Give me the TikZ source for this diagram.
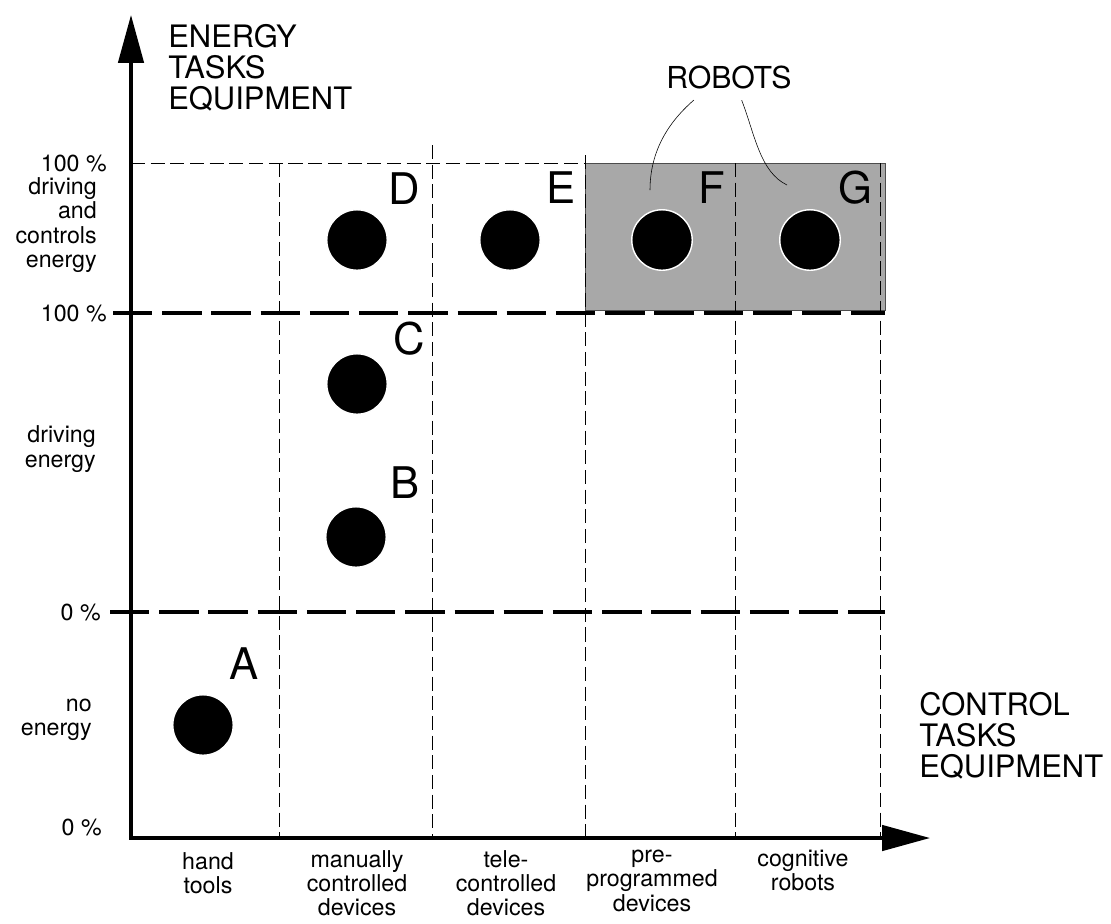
\documentclass[tikz,border=0pt]{standalone}
\usepackage{fontspec}
\setmainfont{TeX Gyre Heros}
\usetikzlibrary{arrows.meta}

\begin{document}
\begin{tikzpicture}[x=0.025cm, y=-0.025cm,
    dot/.style={circle, fill=black, draw=white, line width=1pt, minimum size=43pt, inner sep=0pt},
    letter/.style={font=\fontsize{31}{31}\selectfont, inner sep=0pt},
    small/.style={font=\fontsize{16.5}{17.2}\selectfont, inner sep=0pt},
    big/.style={font=\fontsize{22}{22}\selectfont, inner sep=0pt, align=left},
    axis/.style={line width=2.4pt, {Triangle[length=34pt, width=18pt]}-{Triangle[length=34pt, width=18pt]}},
    thickdash/.style={line width=2.6pt, dash pattern=on 28pt off 7pt},
    thindash/.style={line width=0.6pt, dash pattern=on 10pt off 4pt}]
        \useasboundingbox (0,0) rectangle (1111,923);

        % robots zone
        \filldraw[fill=black!34, draw=black!70, thin] (585,163) rectangle (885,310);

        % grid
        \draw[thindash] (131,163) -- (585,163);
        \foreach \x/\t in {279/163, 432/145, 585/155, 735/163, 880/163}
            \draw[thindash] (\x,\t) -- (\x,838);
        \draw[thickdash] (113,313) -- (885,313);
        \draw[thickdash] (110,612) -- (885,612);

        % axes
        \coordinate (O) at (131,838);
        \coordinate (ytip) at (131,15);
        \coordinate (xtip) at (930,838);
        \draw[axis] (ytip) -- (O) -- (xtip);

        % equipment
        \node[dot] (A) at (203,725) {};
        \node[dot] (B) at (356,537) {};
        \node[dot] (C) at (357,384) {};
        \node[dot] (D) at (357,240) {};
        \node[dot] (E) at (510,240) {};
        \node[dot] (F) at (662,240) {};
        \node[dot] (G) at (810,240) {};
        \node[letter] (lA) at (244,664) {A};
        \node[letter] (lB) at (405,483) {B};
        \node[letter] (lC) at (409,339) {C};
        \node[letter] (lD) at (404,189) {D};
        \node[letter] (lE) at (561,188) {E};
        \node[letter] (lF) at (712,188) {F};
        \node[letter] (lG) at (855,188) {G};

        \node[font=\fontsize{21.5}{21.5}\selectfont, inner sep=0pt] (robots) at (729,77) {ROBOTS};
        \coordinate (fend) at (650,190);
        \coordinate (gend) at (787,185);
        \draw[thin] ([xshift=-25pt, yshift=-8pt]robots.south) .. controls (665,125) and (650,155) .. (fend);
        \draw[thin] ([xshift=9pt, yshift=-8pt]robots.south) .. controls (755,135) and (760,172) .. (gend);

        % axis titles
        \node[big, anchor=north west] (ytitle) at (168,24) {ENERGY\\TASKS\\EQUIPMENT};
        \node[big, anchor=north west] (xtitle) at (919,692) {CONTROL\\TASKS\\EQUIPMENT};

        % energy levels
        \node[small, anchor=east] (top100) at (107,163) {100 \%};
        \node[small, anchor=east, align=right] (ctrl) at (97,225) {driving\\and\\controls\\energy};
        \node[small, anchor=east] (mid100) at (107,313) {100 \%};
        \node[small, anchor=east, align=right] (drive) at (96,449) {driving\\energy};
        \node[small, anchor=east] (mid0) at (101,612) {0 \%};
        \node[small, anchor=east, align=right] (none) at (92,720) {no\\energy};
        \node[small, anchor=east] (bot0) at (102,827) {0 \%};

        % control levels
        \node[small, anchor=north, align=center] (hand) at (208,852) {hand\\tools};
        \node[small, anchor=north, align=center] (manual) at (357,850) {manually\\controlled\\devices};
        \node[small, anchor=north, align=center] (tele) at (506,850) {tele-\\controlled\\devices};
        \node[small, anchor=north, align=center] (prog) at (652,850) {pre-\\programmed\\devices};
        \node[small, anchor=north, align=center] (cogn) at (803,850) {cognitive\\robots};
    \end{tikzpicture}
\end{document}
